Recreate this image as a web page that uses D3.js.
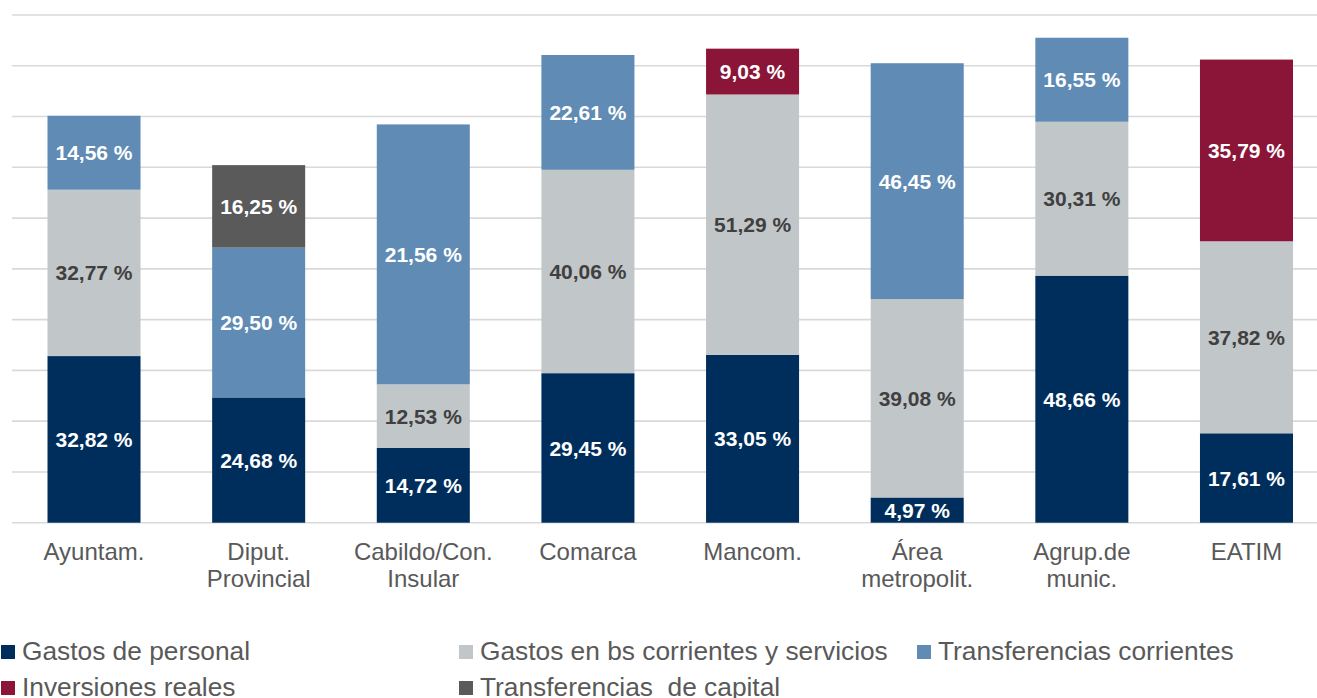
<!DOCTYPE html>
<html><head><meta charset="utf-8">
<script src="https://cdn.jsdelivr.net/npm/d3@7"></script>
<style>body{margin:0;background:#fff;overflow:hidden}svg{display:block}</style>
</head><body>
<svg id="c" width="1317" height="698"></svg>
<script>
const categories = [["Ayuntam."],["Diput.","Provincial"],["Cabildo/Con.","Insular"],["Comarca"],["Mancom."],["Área","metropolit."],["Agrup.de","munic."],["EATIM"]];
const seriesNames = ["Gastos de personal","Gastos en bs corrientes y servicios","Transferencias corrientes","Inversiones reales","Transferencias  de capital"];
const gastosPersonal   = [32.82, 24.68, 14.72, 29.45, 33.05, 4.97, 48.66, 17.61];
const gastosBsCorr     = [32.77, 0, 12.53, 40.06, 51.29, 39.08, 30.31, 37.82];
const transfCorrientes = [14.56, 29.50, 51.2, 22.61, 0, 46.45, 16.55, 0];
const transfCorrLabels = ["14,56 %","29,50 %","21,56 %","22,61 %","","46,45 %","16,55 %",""];
const inversionesReales= [0, 0, 0, 0, 9.03, 0, 0, 35.79];
const transfCapital    = [0, 16.25, 0, 0, 0, 0, 0, 0];
const yTicks = [0,10,20,30,40,50,60,70,80,90,100];

const colors = ["#002E5C","#C1C6C9","#5F8BB5","#8A1538","#5A5A5A"];
const labelColors = ["#fff","#404040","#fff","#fff","#fff"];
const seriesVals = [gastosPersonal,gastosBsCorr,transfCorrientes,inversionesReales,transfCapital];
const fmt = v => v.toFixed(2).replace(".", ",") + " %";

const svg = d3.select("#c");
const x = d3.scaleBand().domain(d3.range(categories.length)).range([11.7,1328.8]).paddingInner(0.435).paddingOuter(0.2175);
const y = d3.scaleLinear().domain([0,100]).range([522.7,15]);

svg.append("g").selectAll("line").data(yTicks).join("line")
  .attr("x1",12).attr("x2",1317).attr("y1",d=>y(d)).attr("y2",d=>y(d))
  .attr("stroke","#D9D9D9").attr("stroke-width",1.6);

const rows = categories.map((c,i)=>{const o={i}; seriesNames.forEach((s,k)=>o[k]=seriesVals[k][i]); return o;});
const stack = d3.stack().keys(d3.range(seriesNames.length))(rows);

const g = svg.append("g");
stack.forEach((layer,k)=>{
  layer.forEach((d,i)=>{
    const v = d[1]-d[0];
    if(v<=0) return;
    g.append("rect").attr("x",x(i)).attr("width",x.bandwidth())
      .attr("y",y(d[1])).attr("height",y(d[0])-y(d[1])).attr("fill",colors[k]);
    const lab = k===2 ? transfCorrLabels[i] : fmt(v);
    g.append("text").attr("x",x(i)+x.bandwidth()/2).attr("y",(y(d[0])+y(d[1]))/2)
      .attr("dy","0.36em").attr("text-anchor","middle")
      .attr("font-family","Liberation Sans, Arial, sans-serif").attr("font-weight","bold")
      .attr("font-size",21).attr("fill",labelColors[k]).text(lab);
  });
});

const ax = svg.append("g");
categories.forEach((lines,i)=>{
  lines.forEach((t,j)=>{
    ax.append("text").attr("x",x(i)+x.bandwidth()/2).attr("y",560+j*27)
      .attr("text-anchor","middle").attr("font-family","Liberation Sans, Arial, sans-serif")
      .attr("font-size",24).attr("fill","#595959").text(t);
  });
});

const legPos = [[1,645],[459,645],[917,645],[1,681],[459,681]];
const leg = svg.append("g");
seriesNames.forEach((s,k)=>{
  const [lx,ly]=legPos[k];
  leg.append("rect").attr("x",lx).attr("y",ly).attr("width",14).attr("height",14).attr("fill",colors[k]);
  leg.append("text").attr("x",lx+21).attr("y",ly+15).attr("font-family","Liberation Sans, Arial, sans-serif")
    .attr("font-size",26.3).attr("fill","#595959")
    .style("white-space","pre").text(s);
});
</script>
</body></html>
